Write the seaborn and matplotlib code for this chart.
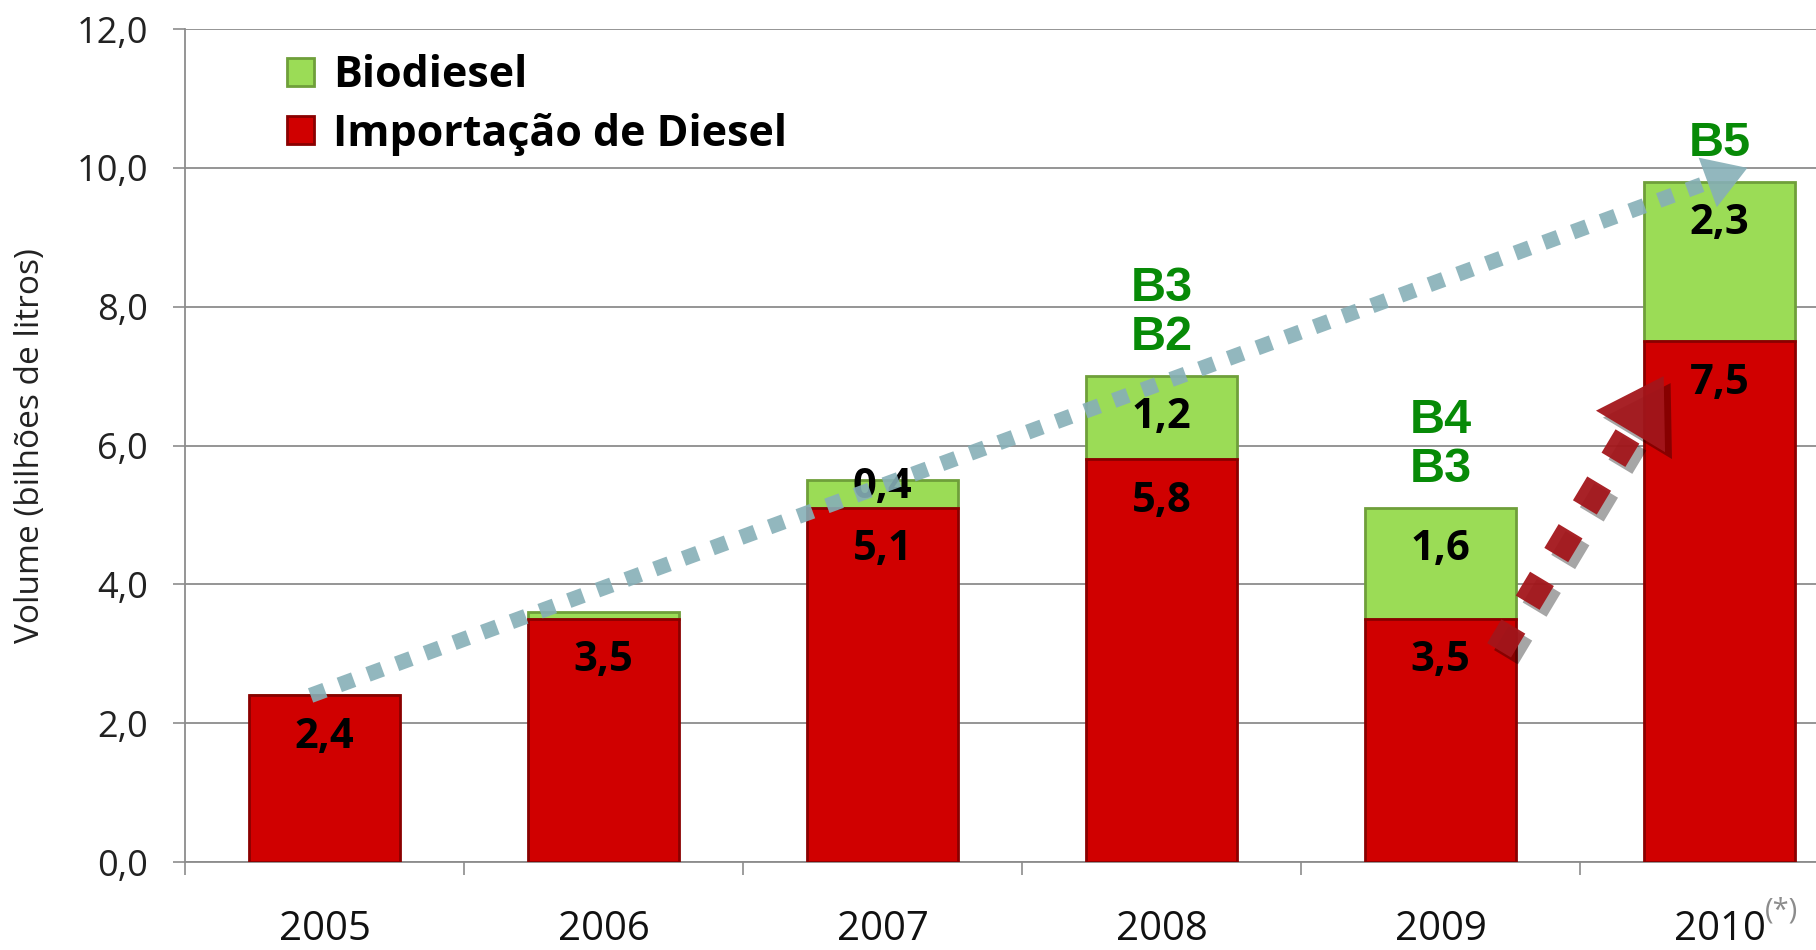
import matplotlib
matplotlib.use("Agg")
import matplotlib.pyplot as plt
import matplotlib.patheffects as pe
from matplotlib import font_manager
import pandas as pd
import seaborn as sns

# dados (bilhões de litros)
anos = ["2005", "2006", "2007", "2008", "2009", "2010"]
importacao = [2.4, 3.5, 5.1, 5.8, 3.5, 7.5]
biodiesel = [0.0, 0.1, 0.4, 1.2, 1.6, 2.3]
misturas = [[], [], [], ["B2", "B3"], ["B3", "B4"], ["B5"]]
yticks = [0, 2, 4, 6, 8, 10, 12]

df = pd.DataFrame({"ano": anos, "importacao": importacao, "biodiesel": biodiesel})
df["total"] = df["importacao"] + df["biodiesel"]

sns.set_theme(style="white")
plt.rcParams["font.family"] = ["Open Sans", "DejaVu Sans"]

instaladas = {f.name for f in font_manager.fontManager.ttflist}
fonte_b = "Liberation Sans Narrow" if "Liberation Sans Narrow" in instaladas else "Liberation Sans"

verde = "#9bdc56"
vermelho = "#d00000"
cinza = "#8c8c8c"

fig = plt.figure(figsize=(18.16, 9.5), dpi=100)
ax = fig.add_axes([0.1019, 0.0926, 0.8981, 0.8768])

sns.barplot(data=df, x="ano", y="importacao", color=vermelho, width=0.54, saturation=1,
            edgecolor="#8a0000", linewidth=2, errorbar=None, ax=ax, zorder=3)
sns.barplot(data=df, x="ano", y="biodiesel", bottom=list(df.importacao), color=verde, width=0.54,
            saturation=1, edgecolor="#6f9f3a", linewidth=2, errorbar=None, ax=ax, zorder=2)

fmt = lambda v: f"{v:.1f}".replace(".", ",")

# rótulos dentro das barras
for i, row in df.iterrows():
    ax.text(i, row.importacao - 0.6, fmt(row.importacao), ha="center", va="center",
            fontsize=30, fontweight="bold", color="black", zorder=4)
    if row.biodiesel >= 0.2:
        if row.biodiesel > 1:
            yb = row.total - 0.6
        else:
            yb = row.importacao + row.biodiesel / 2 + 0.1
        ax.text(i, yb, fmt(row.biodiesel), ha="center", va="center",
                fontsize=30, fontweight="bold", color="black", zorder=4)
    for j, m in enumerate(misturas[i]):
        ax.text(i, row.total + 0.375 + j * 0.707, m, ha="center", va="baseline",
                family=fonte_b, fontsize=35, fontweight="bold", color="#078a07", zorder=4)

# setas
def seta(x0, y0, x1, y1, cor, lw, frac, escala, efeitos_linha=None, efeitos_cabeca=None, alpha=1.0):
    xe = x0 + (x1 - x0) * frac
    ye = y0 + (y1 - y0) * frac
    ax.plot([x0, xe], [y0, ye], color=cor, lw=lw, dashes=(1, 1), dash_capstyle="butt",
            alpha=alpha, zorder=5, path_effects=efeitos_linha)
    ax.annotate("", xy=(x1, y1), xytext=(xe, ye),
                arrowprops=dict(arrowstyle="-|>,head_length=0.8,head_width=0.5",
                                mutation_scale=escala, fc=cor, ec="none", lw=0,
                                shrinkA=0, shrinkB=0, alpha=alpha,
                                path_effects=efeitos_cabeca),
                zorder=5)

seta(-0.05, df.total[0], 5.1, df.total[5] + 0.2, "#86afb7", 11, 0.97, 38, alpha=0.9)
sombra_l = [pe.SimpleLineShadow(offset=(5, -5), shadow_color="black", alpha=0.35), pe.Normal()]
sombra_p = [pe.SimplePatchShadow(offset=(5, -5), shadow_rgbFace="black", alpha=0.35), pe.Normal()]
seta(4.21, df.importacao[4] - 0.45, 4.8, df.importacao[5] - 0.5, "#a3161b", 20, 0.78, 58,
     efeitos_linha=sombra_l, efeitos_cabeca=sombra_p, alpha=0.95)

# legenda
leg = ax.legend([ax.containers[1], ax.containers[0]], ["Biodiesel", "Importação de Diesel"],
                loc="upper left", bbox_to_anchor=(0.0625, 0.97), frameon=False,
                prop={"family": "Open Sans", "weight": "bold", "size": 31},
                handlelength=0.62, handleheight=0.62, handletextpad=0.45,
                labelspacing=0.36, borderpad=0, borderaxespad=0)
for t in leg.get_texts():
    t.set_color("black")

# eixos
ax.set_yticks(yticks)
ax.set_yticklabels([fmt(v) for v in yticks])
ax.set_xticks(range(len(anos)))
ax.set_xticklabels(anos)
ax.set_xticks([i + 0.5 for i in range(-1, len(anos))], minor=True)
ax.set_xlim(-0.5, 5.346)
ax.set_ylim(0, 12)
ax.tick_params(axis="x", which="major", length=0, pad=34, labelsize=29, labelcolor="#111")
ax.tick_params(axis="x", which="minor", length=9.4, width=1.2, color=cinza, direction="out", bottom=True)
ax.tick_params(axis="y", length=8.6, width=1.2, color=cinza, direction="out", left=True,
               pad=18, labelsize=26, labelcolor="#222")
ax.set_xlabel("")
ax.set_ylabel("Volume (bilhões de litros)", fontsize=24, color="#222")
ax.yaxis.set_label_coords(-0.0846, 0.5)
ax.yaxis.grid(True, color=cinza, lw=1.3)
ax.set_axisbelow(True)
for s in ["top", "right"]:
    ax.spines[s].set_visible(False)
for s in ["left", "bottom"]:
    ax.spines[s].set_color(cinza)
    ax.spines[s].set_linewidth(1.3)

ax.annotate("(*)", xy=(5, 0), xycoords="data", xytext=(33, -25), textcoords="offset points",
            ha="left", va="top", fontsize=21, color=cinza, annotation_clip=False)

fig.savefig("out.png", dpi=100)
